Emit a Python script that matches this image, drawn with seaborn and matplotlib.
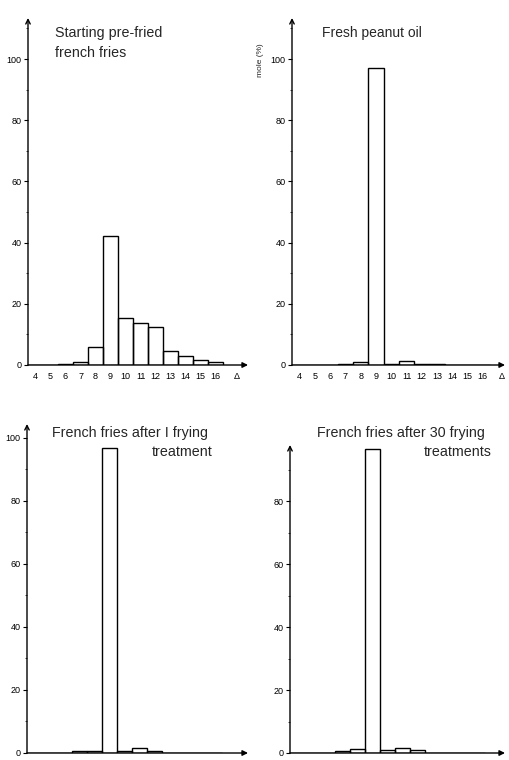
import numpy as np
import pandas as pd
import matplotlib
matplotlib.use("Agg")
import matplotlib.pyplot as plt
import seaborn as sns
from matplotlib.ticker import MultipleLocator

sns.set_theme(style="white")
plt.rcParams['font.family'] = ['Liberation Sans', 'DejaVu Sans']

# carbon number of the acids (C4 ... C16), last tick is the "Δ" column
carbons = [4, 5, 6, 7, 8, 9, 10, 11, 12, 13, 14, 15, 16]
tick_labels = ['4', '5', '6', '7', '8', '9', '10', '11', '12', '13', '14', '15', '16', 'Δ']

# mole %
prefried = [0.1, 0.1, 0.4, 0.9, 5.8, 42.3, 15.4, 13.8, 12.4, 4.5, 2.8, 1.7, 0.9]
peanut_oil = [0.0, 0.0, 0.0, 0.2, 1.1, 97.2, 0.3, 1.4, 0.3, 0.3, 0.0, 0.0, 0.0]
after_1 = [0.0, 0.0, 0.0, 0.6, 0.6, 96.8, 0.5, 1.6, 0.7, 0.0, 0.0, 0.0, 0.0]
after_30 = [0.0, 0.0, 0.0, 0.7, 1.3, 96.4, 0.9, 1.5, 0.8, 0.0, 0.1, 0.0, 0.0]

W, H = 509, 760
fig = plt.figure(figsize=(W / 100, H / 100), dpi=100)


def px_axes(x0, x1, y_top, y_bot):
    # axes box given in pixel coords (origin top-left)
    return fig.add_axes([x0 / W, 1 - y_bot / H, (x1 - x0) / W, (y_bot - y_top) / H])


panels = [
    # data, xlim right, ylim top, box (x0, x1, ytop, ybot), xlabels, delta pos
    (prefried, 18.15, 113.4, (28, 248, 18, 365), True, 17.4),
    (peanut_oil, 17.45, 113.4, (292, 505, 18, 365), True, 17.25),
    (after_1, 18.2, 104.4, (27, 248, 424, 753), False, None),
    (after_30, 17.8, 97.8, (290, 505, 445, 753), False, None),
]

for vals, xr, yt, box, show_x, dpos in panels:
    ax = px_axes(*box)
    df = pd.DataFrame({'carbon': carbons, 'mole': vals})
    sns.histplot(data=df, x='carbon', weights='mole', discrete=True, shrink=1,
                 fill=False, color='black', linewidth=1.0, ax=ax)
    ax.set_xlim(3.5, xr)
    ax.set_ylim(0, yt)
    ax.set_xlabel('')
    ax.set_ylabel('')
    for s in ax.spines.values():
        s.set_visible(False)
    ax.patch.set_alpha(0)

    # axis arrows
    ax.annotate('', xy=(1, 0), xytext=(0, 0), xycoords='axes fraction',
                arrowprops=dict(arrowstyle='-|>', color='black', lw=1.0,
                                mutation_scale=8, shrinkA=0, shrinkB=0))
    ax.annotate('', xy=(0, 1), xytext=(0, 0), xycoords='axes fraction',
                arrowprops=dict(arrowstyle='->', color='black', lw=1.0,
                                mutation_scale=8, shrinkA=0, shrinkB=0))

    ax.yaxis.set_major_locator(MultipleLocator(20))
    ax.yaxis.set_minor_locator(MultipleLocator(10))
    ax.tick_params(axis='y', which='major', left=True, length=3, width=0.8,
                   direction='out', labelsize=6.5, pad=1.5, colors='black')
    ax.tick_params(axis='y', which='minor', left=True, length=1.5, width=0.6,
                   direction='out')

    if show_x:
        ax.set_xticks(carbons + [dpos])
        ax.set_xticklabels(tick_labels)
        ax.tick_params(axis='x', length=0, labelsize=6.5, pad=5, colors='black')
    else:
        ax.set_xticks([])

# titles, placed in pixel coordinates like the original lettering
fs = 10.3
fig.text(55 / W, 1 - 33 / H, "Starting pre-fried", fontsize=fs, va='center', ha='left')
fig.text(55 / W, 1 - 53 / H, "french fries", fontsize=fs, va='center', ha='left')
fig.text(322 / W, 1 - 33 / H, "Fresh peanut oil", fontsize=10, va='center', ha='left')
fig.text(52 / W, 1 - 433 / H, "French fries after I frying", fontsize=fs, va='center', ha='left')
fig.text(212 / W, 1 - 452 / H, "treatment", fontsize=fs, va='center', ha='right')
fig.text(317 / W, 1 - 433 / H, "French fries after 30 frying", fontsize=fs, va='center', ha='left')
fig.text(492 / W, 1 - 452 / H, "treatments", fontsize=fs, va='center', ha='right')

fig.text(261 / W, 1 - 60 / H, "mole (%)", fontsize=6, rotation=90, va='center', ha='center')

fig.savefig("out.png", dpi=100)
